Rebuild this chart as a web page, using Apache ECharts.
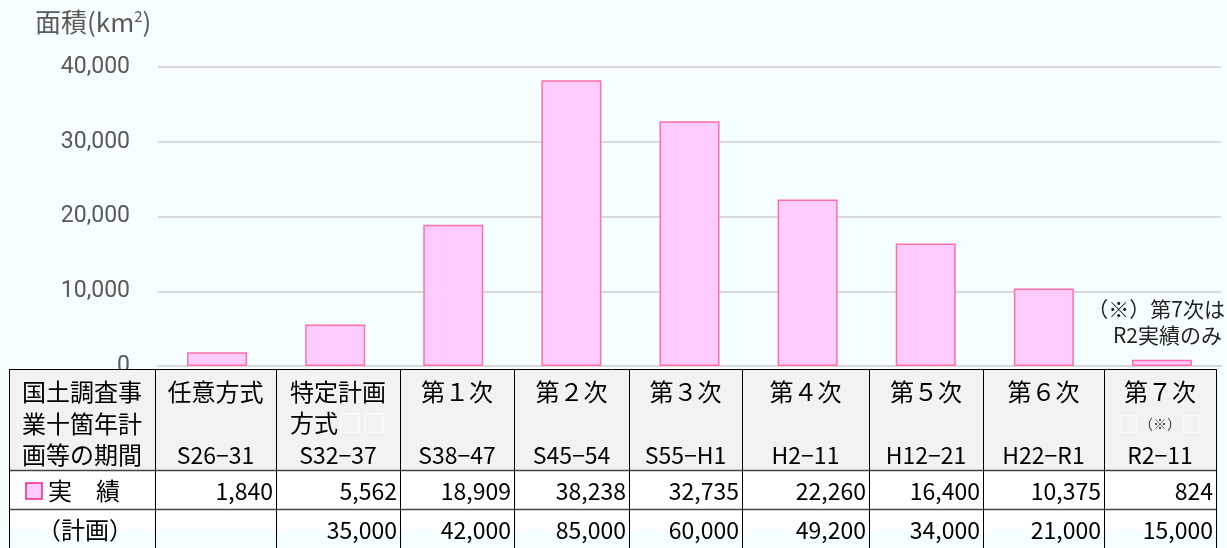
<!DOCTYPE html>
<html>
<head>
<meta charset="utf-8">
<script src="https://cdn.jsdelivr.net/npm/echarts@6/dist/echarts.min.js"></script>
<style>
html, body { margin: 0; padding: 0; background: #f5ffff; }
#main { width: 1227px; height: 548px; }
</style>
</head>
<body>
<div id="main"></div>
<script>
// data
const periods = ['任意方式', '特定計画方式', '第１次', '第２次', '第３次', '第４次', '第５次', '第６次', '第７次'];
const headTop = ['任意方式', '特定計画', '第１次', '第２次', '第３次', '第４次', '第５次', '第６次', '第７次'];
const ranges = ['S26−31', 'S32−37', 'S38−47', 'S45−54', 'S55−H1', 'H2−11', 'H12−21', 'H22−R1', 'R2−11'];
const actual = [1840, 5562, 18909, 38238, 32735, 22260, 16400, 10375, 824];
const plan = [null, 35000, 42000, 85000, 60000, 49200, 34000, 21000, 15000];
const yTicks = [0, 10000, 20000, 30000, 40000];

// table layout
const colEdges = [9, 155, 276, 400, 514, 629, 742, 869, 983, 1104, 1216];
const rowEdges = [369, 470, 509, 548];
const jp = '"Noto Sans CJK JP", sans-serif';

function fmt(v) {
    return v == null ? '' : v.toLocaleString('en-US');
}

function txt(x, y, text, size, align, color) {
    return {
        type: 'text', x: x, y: y, z: 110,
        style: {
            text: text,
            font: size + 'px ' + jp,
            fill: color || '#000',
            align: align, textAlign: align,
            verticalAlign: 'middle', textVerticalAlign: 'middle'
        }
    };
}

function buildTable() {
    let els = [];
    let left = colEdges[0], right = colEdges[colEdges.length - 1];
    els.push({ type: 'rect', z: 100, shape: { x: left, y: rowEdges[0], width: right - left, height: rowEdges[1] - rowEdges[0] }, style: { fill: '#f2f2f2' } });
    els.push({ type: 'rect', z: 100, shape: { x: left, y: rowEdges[1], width: right - left, height: 60 }, style: { fill: '#ffffff' } });
    // horizontal lines
    for (let i = 0; i < 3; i++) {
        els.push({ type: 'line', z: 105, shape: { x1: left, y1: rowEdges[i] + 0.5, x2: right, y2: rowEdges[i] + 0.5 }, style: { stroke: i === 0 ? '#000' : '#444', lineWidth: i === 0 ? 1 : 1.5 } });
    }
    // vertical lines
    for (let i = 0; i < colEdges.length; i++) {
        els.push({ type: 'line', z: 105, shape: { x1: colEdges[i] + 0.5, y1: rowEdges[0], x2: colEdges[i] + 0.5, y2: 550 }, style: { stroke: '#000', lineWidth: 1 } });
    }
    // first column
    let lab = ['国土調査事', '業十箇年計', '画等の期間'];
    for (let i = 0; i < lab.length; i++) {
        els.push(txt(82, 392 + i * 31.5, lab[i], 24, 'center'));
    }
    els.push({ type: 'rect', z: 110, shape: { x: 26, y: 483, width: 16, height: 16 }, style: { fill: '#ffccff', stroke: '#ee2288', lineWidth: 1.5 } });
    els.push(txt(48, 491, '実　績', 24, 'left'));
    els.push(txt(85, 530, '（計画）', 24, 'center'));
    // period columns
    for (let i = 0; i < periods.length; i++) {
        let cx = (colEdges[i + 1] + colEdges[i + 2]) / 2;
        let rx = colEdges[i + 2] - 3;
        els.push(txt(cx, 392, headTop[i], 24, 'center'));
        els.push(txt(cx, 455, ranges[i], 23, 'center'));
        els.push(txt(rx, 491, fmt(actual[i]), 23, 'right'));
        els.push(txt(rx, 530, fmt(plan[i]), 23, 'right'));
    }
    // second header lines
    let c2 = (colEdges[2] + colEdges[3]) / 2;
    els.push({
        type: 'text', x: c2, y: 423, z: 110,
        style: {
            text: '方式{w|□□}', font: '24px ' + jp, fill: '#000',
            align: 'center', textAlign: 'center', verticalAlign: 'middle', textVerticalAlign: 'middle',
            rich: { w: { fill: '#ffffff', font: '24px ' + jp } }
        }
    });
    let c9 = (colEdges[9] + colEdges[10]) / 2;
    els.push({
        type: 'text', x: c9, y: 424, z: 110,
        style: {
            text: '{w|□}{s|（※）}{w|□}', font: '24px ' + jp, fill: '#000',
            align: 'center', textAlign: 'center', verticalAlign: 'middle', textVerticalAlign: 'middle',
            rich: {
                w: { fill: '#ffffff', font: '20px ' + jp },
                s: { fill: '#333', font: '14px ' + jp }
            }
        }
    });
    // note
    els.push(txt(1225, 309, '（※）第7次は', 21, 'right', '#222'));
    els.push(txt(1222, 335, 'R2実績のみ', 21, 'right', '#222'));
    return els;
}

var myChart = echarts.init(document.getElementById('main'));

var option = {
    backgroundColor: '#f5ffff',
    animation: false,
    title: {
        text: '面積(km{s|2})',
        left: 30, top: 4,
        textStyle: {
            fontFamily: jp, fontSize: 26, fontWeight: 'normal', color: '#595959',
            rich: { s: { fontFamily: jp, fontSize: 15, color: '#595959', padding: [0, 0, 12, 0] } }
        }
    },
    grid: { left: 158, right: 6, top: 67, bottom: 182, containLabel: false },
    xAxis: {
        type: 'category',
        data: periods,
        axisLine: { show: true, lineStyle: { color: '#d9d9d9', width: 2 } },
        axisTick: { show: false },
        axisLabel: { show: false }
    },
    yAxis: {
        type: 'value',
        min: yTicks[0],
        max: yTicks[yTicks.length - 1],
        interval: yTicks[1] - yTicks[0],
        axisLine: { show: false },
        axisTick: { show: false },
        splitLine: { lineStyle: { color: '#d9d9d9', width: 2 } },
        axisLabel: {
            margin: 28,
            fontFamily: 'Roboto, "Noto Sans", sans-serif',
            fontSize: 23,
            color: '#595959',
            formatter: function (v) { return v.toLocaleString('en-US'); }
        }
    },
    series: [
        {
            type: 'bar',
            data: actual,
            barWidth: 60,
            itemStyle: { color: '#ffccff', borderColor: '#ff6fa8', borderWidth: 1.5 }
        }
    ],
    graphic: { elements: buildTable() }
};

myChart.setOption(option);
</script>
</body>
</html>
